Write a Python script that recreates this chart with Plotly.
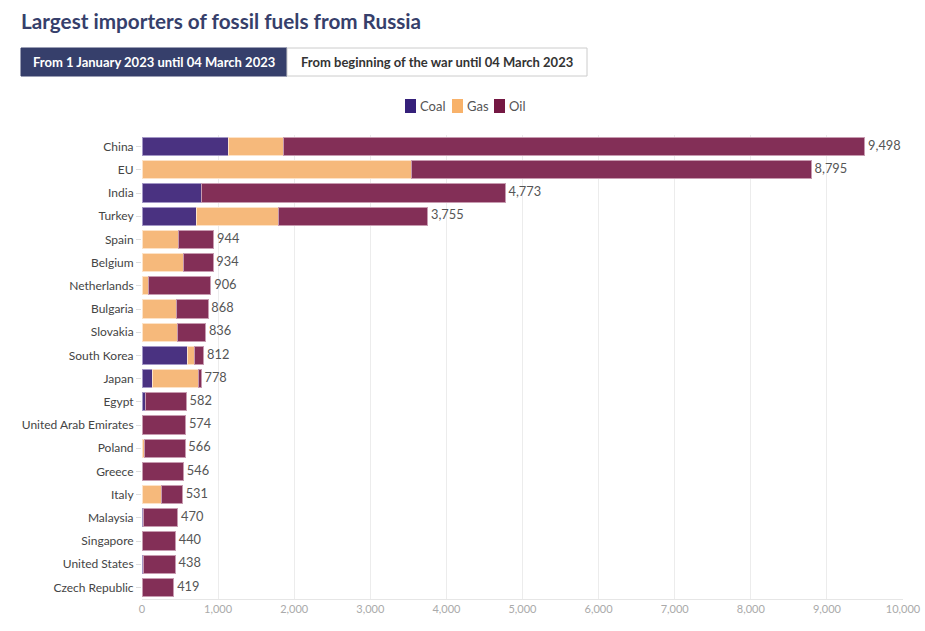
import plotly.graph_objects as go

countries = ["China", "EU", "India", "Turkey", "Spain", "Belgium", "Netherlands", "Bulgaria",
             "Slovakia", "South Korea", "Japan", "Egypt", "United Arab Emirates", "Poland",
             "Greece", "Italy", "Malaysia", "Singapore", "United States", "Czech Republic"]
coal = [1140, 0, 788, 710, 0, 0, 0, 0, 0, 595, 140, 44, 12, 0, 0, 0, 20, 10, 26, 0]
gas = [725, 3535, 0, 1090, 486, 543, 83, 451, 460, 93, 596, 0, 0, 28, 0, 250, 0, 0, 0, 0]
totals = [9498, 8795, 4773, 3755, 944, 934, 906, 868, 836, 812, 778, 582, 574, 566, 546, 531, 470, 440, 438, 419]
oil = [t - c - g for t, c, g in zip(totals, coal, gas)]
fuel_names = ["Coal", "Gas", "Oil"]

W, H = 925, 631
L, R, T, B = 142, 22, 135, 32
PW, PH = W - L - R, H - T - B


def px(x):
    return (x - L) / PW


def py(y):
    return (H - B - y) / PH


FONT = "Lato, 'Source Sans Pro', 'Open Sans', sans-serif"

fig = go.Figure()
fills = ["#4a3281", "#f6b97b", "#832f57"]
lines = ["#a397c6", "#fde3c8", "#c79bb0"]
legend_cols = ["#35207a", "#f8b26a", "#741843"]
for name, vals, col, lc in zip(fuel_names, [coal, gas, oil], fills, lines):
    fig.add_trace(go.Bar(
        name=name, y=countries, x=vals, orientation="h",
        marker=dict(color=col, line=dict(color=lc, width=1)),
        hovertemplate="%{y}: %{x:,}<extra>" + name + "</extra>",
        showlegend=False,
    ))

fig.add_trace(go.Scatter(
    x=totals, y=countries, mode="text",
    text=["\u00a0" + f"{t:,}" for t in totals], textposition="middle right",
    textfont=dict(size=12.8, color="#555555", family=FONT),
    showlegend=False, hoverinfo="skip", cliponaxis=False,
))

n = len(countries)
fig.update_layout(
    width=W, height=H,
    margin=dict(l=L, r=R, t=T, b=B, pad=0, autoexpand=False),
    barmode="stack", bargap=0.22,
    paper_bgcolor="white", plot_bgcolor="white",
    font=dict(family=FONT, color="#444444"),
    showlegend=False,
    xaxis=dict(range=[0, 10000], dtick=1000, tickformat=",", showgrid=True,
               gridcolor="#ececec", gridwidth=1, zeroline=False,
               showline=True, linecolor="#e6e6e6", linewidth=1,
               tickfont=dict(size=11, color="#aaaaaa"), ticks="", ticklen=0,
               fixedrange=True, automargin=False),
    yaxis=dict(range=[n - 0.5, -0.5], showgrid=False, zeroline=False,
               ticks="outside", ticklen=5, tickcolor="#dddddd",
               tickfont=dict(size=12, color="#444444"), fixedrange=True,
               automargin=False),
)

# Legend (drawn manually for compact spacing)
leg_x = [405, 452, 494]
for name, col, x0 in zip(fuel_names, legend_cols, leg_x):
    fig.add_shape(type="rect", xref="paper", yref="paper",
                  x0=px(x0), x1=px(x0 + 11), y0=py(99), y1=py(113),
                  fillcolor=col, line=dict(width=0))
    fig.add_annotation(text=name, xref="paper", yref="paper",
                       x=px(x0 + 13), y=py(106), xanchor="left", yanchor="middle",
                       showarrow=False, font=dict(size=13, color="#555555", family=FONT))

# Title
fig.add_annotation(text="<b>Largest importers of fossil fuels from Russia</b>",
                   xref="paper", yref="paper", x=px(19), y=py(21),
                   xanchor="left", yanchor="middle", showarrow=False,
                   font=dict(size=20.7, color="#363f6b", family=FONT))

# Toggle buttons
fig.add_shape(type="rect", xref="paper", yref="paper",
              x0=px(21), x1=px(287), y0=py(48), y1=py(76),
              fillcolor="#363f6b", line=dict(color="#363f6b", width=1))
fig.add_shape(type="rect", xref="paper", yref="paper",
              x0=px(287), x1=px(587), y0=py(48), y1=py(76),
              fillcolor="white", line=dict(color="#cccccc", width=1))
fig.add_annotation(text="<b>From 1 January 2023 until 04 March 2023</b>",
                   xref="paper", yref="paper", x=px(154), y=py(62),
                   xanchor="center", yanchor="middle", showarrow=False,
                   font=dict(size=13, color="white", family=FONT))
fig.add_annotation(text="<b>From beginning of the war until 04 March 2023</b>",
                   xref="paper", yref="paper", x=px(437), y=py(62),
                   xanchor="center", yanchor="middle", showarrow=False,
                   font=dict(size=13, color="#333333", family=FONT))

fig.write_html("out.html")
